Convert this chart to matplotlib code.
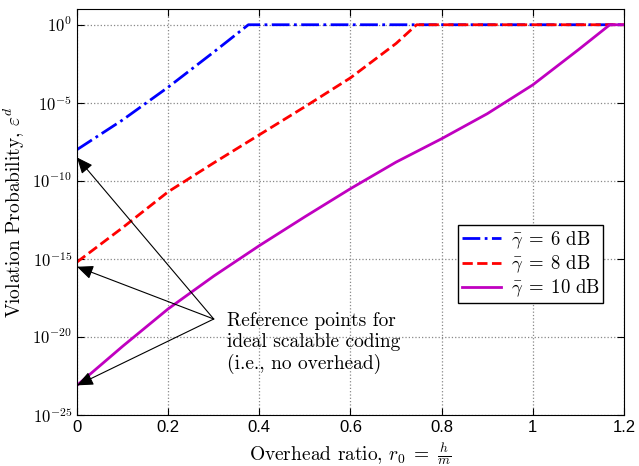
import numpy as np
import matplotlib
matplotlib.use('Agg')
import matplotlib.pyplot as plt

plt.rcParams['mathtext.fontset'] = 'cm'

# overhead ratio samples and log10 of violation probability per curve
r6 = [0.0, 0.1, 0.2, 0.3, 0.376, 1.2]
logp6 = [-8.0, -6.1, -4.0, -1.75, 0.0, 0.0]

r8 = [0.0, 0.1, 0.2, 0.3, 0.4, 0.5, 0.6, 0.7, 0.745, 1.2]
logp8 = [-15.2, -13.0, -10.7, -8.85, -7.05, -5.25, -3.4, -1.2, 0.0, 0.0]

r10 = [0.0, 0.1, 0.2, 0.3, 0.4, 0.5, 0.6, 0.7, 0.8, 0.9, 1.0, 1.1, 1.169, 1.2]
logp10 = [-23.1, -20.6, -18.2, -16.1, -14.15, -12.3, -10.5, -8.8, -7.3, -5.7, -3.85, -1.6, 0.0, 0.0]

ytick_exp = [0, -5, -10, -15, -20, -25]

fig = plt.figure(figsize=(6.39, 4.66), dpi=100)
ax = fig.add_axes([0.1205, 0.1094, 0.856, 0.871])

ax.semilogy(r6, 10.0 ** np.array(logp6), color='blue', ls='-.', lw=2,
            label=r'$\bar{\gamma}\;=\;6\ \mathrm{dB}$')
ax.semilogy(r8, 10.0 ** np.array(logp8), color='red', ls='--', lw=2,
            label=r'$\bar{\gamma}\;=\;8\ \mathrm{dB}$')
ax.semilogy(r10, 10.0 ** np.array(logp10), color='#c000c0', ls='-', lw=2,
            label=r'$\bar{\gamma}\;=\;10\ \mathrm{dB}$')

ax.set_xlim(0, 1.2)
ax.set_ylim(1e-25, 1e1)
ax.set_xticks([0, 0.2, 0.4, 0.6, 0.8, 1.0, 1.2])
ax.set_xticklabels(['0', '0.2', '0.4', '0.6', '0.8', '1', '1.2'])
ax.set_yticks([10.0 ** e for e in ytick_exp])
ax.set_yticklabels([r'$\mathsf{10^{%d}}$' % e for e in ytick_exp])
ax.minorticks_off()
ax.tick_params(direction='in', top=True, right=True, labelsize=12, length=5)
for lab in ax.get_xticklabels():
    lab.set_family('Liberation Sans')
ax.grid(True, ls=':', color='#888888', lw=0.9)

ax.set_xlabel(r'Overhead ratio, $r_0\;=\;\frac{h}{m}$', fontname='cmr10', fontsize=14)
ax.set_ylabel(r'Violation Probability, $\varepsilon^d$', fontname='cmr10', fontsize=14)

# arrows from the note to the zero-overhead points
src = (0.3, 10 ** -18.85)
for tip in [-8.5, -15.5, -23.1]:
    ax.annotate('', xy=(0, 10.0 ** tip), xytext=src,
                arrowprops=dict(arrowstyle='-|>,head_length=0.7,head_width=0.3',
                                color='black', lw=0.8,
                                mutation_scale=14, shrinkA=0, shrinkB=0))
ax.text(0.33, 10 ** -18.4, 'Reference points for\nideal scalable coding\n(i.e., no overhead)',
        fontname='cmr10', fontsize=14, va='top', ha='left', linespacing=1.2)

leg = ax.legend(loc='upper left', bbox_to_anchor=(0.697, 0.467), fontsize=13.5,
                fancybox=False, edgecolor='black', framealpha=1,
                borderpad=0.2, labelspacing=0.15, handlelength=2.1,
                handletextpad=0.5, borderaxespad=0)
leg.get_frame().set_linewidth(1.0)

fig.savefig('out.png', dpi=100)
